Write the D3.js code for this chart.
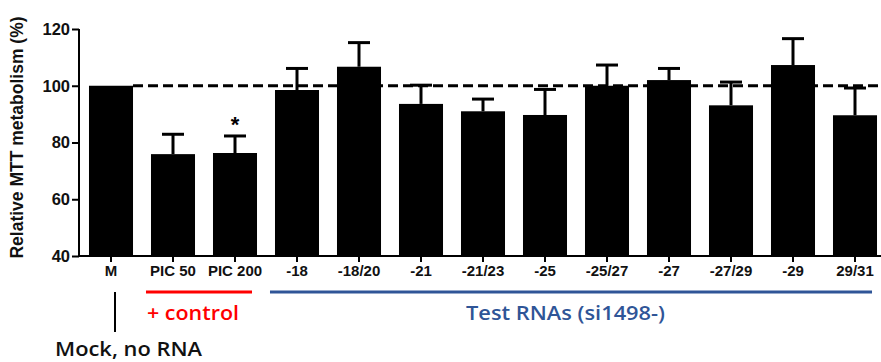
<!DOCTYPE html>
<html>
<head>
<meta charset="utf-8">
<script src="https://cdn.jsdelivr.net/npm/d3@7"></script>
<style>
    body { margin: 0; background: #fff; }
    svg { display: block; }
    .axis-label { font-family: "Liberation Sans", Arial, sans-serif; font-weight: bold; }
    .note { font-family: "Open Sans", sans-serif; font-weight: 600; }
</style>
</head>
<body>
<svg id="chart"></svg>
<script>
const categories = ['M', 'PIC 50', 'PIC 200', '-18', '-18/20', '-21', '-21/23', '-25', '-25/27', '-27', '-27/29', '-29', '29/31'];
const means = [100, 75.9, 76.3, 98.5, 106.7, 93.6, 91.0, 89.7, 100.0, 102.0, 93.1, 107.3, 89.6];
const errors = [0, 7.0, 6.0, 7.6, 8.5, 6.6, 4.3, 9.0, 7.3, 4.1, 8.2, 9.3, 9.6];
const yTicks = [40, 60, 80, 100, 120];
const starred = ['PIC 200'];

const groupNames = ['+ control', 'Test RNAs (si1498-)'];
const groupFirst = ['PIC 50', '-18'];
const groupLast = ['PIC 200', '29/31'];
const groupColors = ['#ff0000', '#2f5597'];
const mockLabel = 'Mock, no RNA';

const width = 881, height = 362;

const svg = d3.select('#chart')
    .attr('width', width)
    .attr('height', height);

const x = d3.scaleBand()
    .domain(categories)
    .range([80, 886])
    .paddingInner(0.29)
    .paddingOuter(0.145);

const y = d3.scaleLinear()
    .domain([40, 120])
    .range([256, 29]);

const data = categories.map((c, i) => ({ cat: c, mean: means[i], err: errors[i] }));

// dashed reference line at 100%
svg.append('line')
    .attr('x1', x('M') + x.bandwidth())
    .attr('x2', width)
    .attr('y1', y(100))
    .attr('y2', y(100))
    .attr('stroke', '#000')
    .attr('stroke-width', 3)
    .attr('stroke-dasharray', '10,5');

// error bars (upper only)
const eb = svg.selectAll('.err')
    .data(data.filter(d => d.err > 0))
    .enter()
    .append('g')
    .attr('class', 'err');

eb.append('line')
    .attr('x1', d => x(d.cat) + x.bandwidth() / 2)
    .attr('x2', d => x(d.cat) + x.bandwidth() / 2)
    .attr('y1', d => y(d.mean))
    .attr('y2', d => y(d.mean + d.err))
    .attr('stroke', '#000')
    .attr('stroke-width', 3);

eb.append('line')
    .attr('x1', d => x(d.cat) + x.bandwidth() / 2 - 11)
    .attr('x2', d => x(d.cat) + x.bandwidth() / 2 + 11)
    .attr('y1', d => y(d.mean + d.err))
    .attr('y2', d => y(d.mean + d.err))
    .attr('stroke', '#000')
    .attr('stroke-width', 3);

svg.selectAll('.bar')
    .data(data)
    .enter()
    .append('rect')
    .attr('class', 'bar')
    .attr('x', d => x(d.cat))
    .attr('y', d => y(d.mean))
    .attr('width', x.bandwidth())
    .attr('height', d => y(40) - y(d.mean))
    .attr('fill', '#000');

// significance star
svg.selectAll('.star')
    .data(data.filter(d => starred.includes(d.cat)))
    .enter()
    .append('text')
    .attr('class', 'axis-label')
    .attr('x', d => x(d.cat) + x.bandwidth() / 2)
    .attr('y', d => y(d.mean + d.err) - 4)
    .attr('text-anchor', 'middle')
    .attr('font-size', 22)
    .text('*');

// axes
const yAxis = svg.append('g')
    .attr('transform', 'translate(79,0)')
    .call(d3.axisLeft(y).tickValues(yTicks).tickSize(7).tickPadding(2));
yAxis.select('.domain').attr('stroke-width', 2).attr('d', `M0,${y(120)}V${y(40)}`);
yAxis.selectAll('.tick line').attr('stroke-width', 2);
yAxis.selectAll('text')
    .attr('class', 'axis-label')
    .attr('font-size', 16.5)
    .attr('fill', '#111');

const xAxis = svg.append('g')
    .attr('transform', `translate(0,${y(40)})`)
    .call(d3.axisBottom(x).tickSize(6).tickPadding(3));
xAxis.select('.domain').attr('stroke-width', 2).attr('d', `M79,0H${width}`);
xAxis.selectAll('.tick line').attr('stroke-width', 2);
xAxis.selectAll('text')
    .attr('class', 'axis-label')
    .attr('font-size', 15)
    .attr('fill', '#111');

svg.append('text')
    .attr('class', 'axis-label')
    .attr('transform', `translate(23,${(12 + 263) / 2}) rotate(-90)`)
    .attr('text-anchor', 'middle')
    .attr('font-size', 17.5)
    .attr('fill', '#111')
    .text('Relative MTT metabolism (%)');

// group brackets below the axis
const groupTextWidth = [92, 199];
groupNames.forEach((name, i) => {
    const x1 = x(groupFirst[i]) - 5;
    const x2 = x(groupLast[i]) + x.bandwidth() - 5;
    svg.append('line')
        .attr('x1', x1).attr('x2', x2)
        .attr('y1', 292).attr('y2', 292)
        .attr('stroke', groupColors[i])
        .attr('stroke-width', 3);
    const tx = i === 0 ? x1 + 1 : (x1 + x2) / 2 - 105;
    svg.append('text')
        .attr('class', 'note')
        .attr('x', tx)
        .attr('y', 320)
        .attr('font-size', 20)
        .attr('textLength', groupTextWidth[i])
        .attr('lengthAdjust', 'spacingAndGlyphs')
        .attr('fill', groupColors[i])
        .text(name);
});

// mock marker
const mx = x('M') + x.bandwidth() / 2 + 4;
svg.append('line')
    .attr('x1', mx).attr('x2', mx)
    .attr('y1', 292).attr('y2', 332)
    .attr('stroke', '#000')
    .attr('stroke-width', 2);

svg.append('text')
    .attr('class', 'note')
    .attr('x', 55)
    .attr('y', 356)
    .attr('font-size', 20.5)
    .attr('textLength', 147)
    .attr('lengthAdjust', 'spacingAndGlyphs')
    .attr('fill', '#111')
    .text(mockLabel);
</script>
</body>
</html>
